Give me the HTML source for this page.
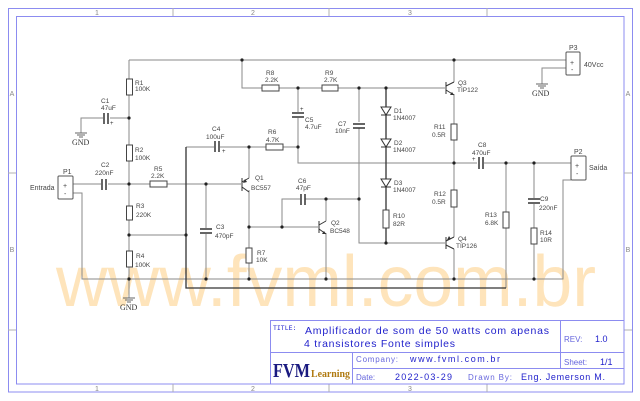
<!DOCTYPE html>
<html><head><meta charset="utf-8"><style>
html,body{margin:0;padding:0;background:#fff;width:640px;height:401px;overflow:hidden}
svg{display:block}
text{font-family:"Liberation Sans",sans-serif}
.mono{font-family:"Liberation Mono",monospace}
.serif{font-family:"Liberation Serif",serif}
</style></head><body>
<svg width="640" height="401" viewBox="0 0 640 401" xmlns="http://www.w3.org/2000/svg">
<!-- borders -->
<rect x="8.5" y="8.5" width="624" height="383.5" fill="none" stroke="#8c8cf0" stroke-width="1"/>
<rect x="16.5" y="16.5" width="607.5" height="367.5" fill="none" stroke="#8c8cf0" stroke-width="1"/>
<g stroke="#b0b0b0" stroke-width="1">
<line x1="173" y1="8" x2="173" y2="16"/><line x1="329" y1="8" x2="329" y2="16"/><line x1="487" y1="8" x2="487" y2="16"/>
<line x1="173" y1="384" x2="173" y2="392"/><line x1="329" y1="384" x2="329" y2="392"/><line x1="487" y1="384" x2="487" y2="392"/>
<line x1="8" y1="173" x2="16" y2="173"/><line x1="624" y1="173" x2="632" y2="173"/>
<line x1="8" y1="330" x2="16" y2="330"/><line x1="624" y1="330" x2="632" y2="330"/>
</g>
<g font-size="7" fill="#888" text-anchor="middle">
<text x="97" y="15">1</text><text x="253" y="15">2</text><text x="410" y="15">3</text>
<text x="97" y="391">1</text><text x="253" y="391">2</text><text x="410" y="391">3</text>
<text x="12" y="96">A</text><text x="628" y="96">A</text>
<text x="12" y="252">B</text><text x="628" y="252">B</text>
</g>

<!-- watermark -->
<text x="56" y="306" font-size="72" fill="#fcc468" fill-opacity="0.45" textLength="540" lengthAdjust="spacingAndGlyphs">www.fvml.com.br</text>

<!-- wires -->
<g stroke="#8a8a8a" stroke-width="1" fill="none">
<path d="M129 60H566M129 60V79M129 95V145M129 160V206M129 220V251M129 267V298"/>
<path d="M81 133V118H103M110 118H129"/>
<path d="M73 184H101M108 184H150M167 184H241"/>
<path d="M73 193H82V279H563V180H571"/>
<path d="M129 235H186"/>
<path d="M186 147H214M220 147H266M283 147H298"/>
<path d="M206 184V228M206 234V279"/>
<path d="M249 147V178M249 190V248M249 262V279"/>
<path d="M249 227H318"/>
<path d="M282 227V199H300M305 199H359"/>
<path d="M326 199V221M326 233V279"/>
<path d="M242 60V88H262M279 88H322M338 88H445"/>
<path d="M298 88V112M298 118V163H477M484 163H571"/>
<path d="M359 88V122M359 128V243H445"/>
<path d="M454 60V82M454 94V124M454 140V190M454 207V237M454 249V279"/>
<path d="M506 163V212M506 228V288"/>
<path d="M534 163V198M534 204V228M534 244V279"/>
<path d="M566 68H542V84"/>
</g>
<g stroke="#333" stroke-width="1.3" fill="none">
<path d="M186 147V288H506"/>
<path d="M386 88V243"/>
</g>

<!-- resistors -->
<g fill="#fff" stroke="#444" stroke-width="1">
<rect x="126.5" y="79" width="6" height="16"/>
<rect x="126.5" y="145" width="6" height="16"/>
<rect x="126.5" y="206" width="6" height="14"/>
<rect x="126.5" y="251" width="6" height="16"/>
<rect x="150" y="181" width="17" height="6"/>
<rect x="262" y="85" width="17" height="6"/>
<rect x="322" y="85" width="16" height="6"/>
<rect x="266" y="144" width="17" height="6"/>
<rect x="246" y="248" width="6" height="15"/>
<rect x="383" y="210" width="6" height="18"/>
<rect x="451" y="124" width="6" height="16"/>
<rect x="451" y="190" width="6" height="17"/>
<rect x="503" y="212" width="6" height="16"/>
<rect x="531" y="228" width="6" height="16"/>
</g>

<!-- capacitors -->
<g stroke="#333" stroke-width="1.5">
<line x1="104" y1="113" x2="104" y2="124"/><line x1="108" y1="113" x2="108" y2="124"/>
<line x1="102" y1="179" x2="102" y2="190"/><line x1="106" y1="179" x2="106" y2="190"/>
<line x1="215" y1="141" x2="215" y2="152"/><line x1="219" y1="141" x2="219" y2="152"/>
<line x1="292" y1="113" x2="304" y2="113"/><line x1="292" y1="117" x2="304" y2="117"/>
<line x1="200" y1="229" x2="212" y2="229"/><line x1="200" y1="233" x2="212" y2="233"/>
<line x1="301" y1="194" x2="301" y2="205"/><line x1="305" y1="194" x2="305" y2="205"/>
<line x1="353" y1="124" x2="365" y2="124"/><line x1="353" y1="128" x2="365" y2="128"/>
<line x1="479" y1="157" x2="479" y2="169"/><line x1="483" y1="157" x2="483" y2="169"/>
<line x1="528" y1="199" x2="540" y2="199"/><line x1="528" y1="203" x2="540" y2="203"/>
</g>
<g font-size="6" fill="#333"><text x="110" y="125">+</text><text x="222" y="153">+</text><text x="300" y="111">+</text><text x="472" y="161">+</text></g>

<!-- diodes -->
<g fill="#fff" stroke="#333" stroke-width="1">
<path d="M381 107H391L386 115Z"/><line x1="381" y1="115" x2="391" y2="115"/>
<path d="M381 139H391L386 147Z"/><line x1="381" y1="147" x2="391" y2="147"/>
<path d="M381 179H391L386 187Z"/><line x1="381" y1="187" x2="391" y2="187"/>
</g>

<!-- transistors -->
<g stroke="#333" stroke-width="1" fill="none">
<line x1="242" y1="178" x2="242" y2="191"/><path d="M242 182L249 178M242 187L249 192"/>
<line x1="319" y1="221" x2="319" y2="233"/><path d="M319 225L326 221M319 229L326 234"/>
<line x1="446" y1="82" x2="446" y2="94"/><path d="M446 86L454 82M446 90L454 95"/>
<line x1="446" y1="237" x2="446" y2="249"/><path d="M446 241L454 237M446 245L454 249"/>
</g>
<g fill="#333"><path d="M243 183l4 -1l-2 -3z"/><path d="M326 234l-4 0l2 -3z"/><path d="M454 95l-4 0l2 -3z"/><path d="M447 240l4 -1l-2 -3z"/></g>

<!-- nodes -->
<g fill="#222">
<circle cx="129" cy="118" r="1.6"/><circle cx="129" cy="184" r="1.6"/><circle cx="129" cy="235" r="1.6"/><circle cx="129" cy="279" r="1.6"/>
<circle cx="186" cy="235" r="1.6"/><circle cx="206" cy="184" r="1.6"/><circle cx="206" cy="279" r="1.6"/>
<circle cx="249" cy="147" r="1.6"/><circle cx="249" cy="227" r="1.6"/><circle cx="249" cy="279" r="1.6"/>
<circle cx="282" cy="227" r="1.6"/><circle cx="326" cy="199" r="1.6"/><circle cx="326" cy="279" r="1.6"/>
<circle cx="359" cy="199" r="1.6"/><circle cx="242" cy="60" r="1.6"/><circle cx="298" cy="88" r="1.6"/><circle cx="298" cy="147" r="1.6"/>
<circle cx="359" cy="88" r="1.6"/><circle cx="386" cy="88" r="1.6"/><circle cx="386" cy="243" r="1.6"/>
<circle cx="454" cy="60" r="1.6"/><circle cx="454" cy="163" r="1.6"/><circle cx="454" cy="279" r="1.6"/>
<circle cx="506" cy="163" r="1.6"/><circle cx="534" cy="163" r="1.6"/><circle cx="534" cy="279" r="1.6"/>
</g>

<!-- connectors -->
<g fill="#fff" stroke="#555"><rect x="58" y="176" width="15" height="23" rx="1"/><rect x="566" y="52" width="14" height="23" rx="1"/><rect x="571" y="156" width="15" height="24" rx="1"/></g>
<g font-size="7" fill="#444">
<text x="63" y="174">P1</text><text x="63" y="188">+</text><text x="64" y="196">-</text><text x="30" y="190">Entrada</text>
<text x="569" y="50">P3</text><text x="570" y="65">+</text><text x="571" y="72">-</text><text x="584" y="67">40Vcc</text>
<text x="574" y="154">P2</text><text x="575" y="168">+</text><text x="576" y="176">-</text><text x="589" y="170">Saída</text>
</g>

<!-- GND -->
<g stroke="#666" stroke-width="1">
<line x1="75" y1="133" x2="87" y2="133"/><line x1="77" y1="135" x2="85" y2="135"/><line x1="79" y1="137" x2="83" y2="137"/>
<line x1="123" y1="298" x2="135" y2="298"/><line x1="125" y1="300" x2="133" y2="300"/><line x1="127" y1="302" x2="131" y2="302"/>
<line x1="536" y1="84" x2="548" y2="84"/><line x1="538" y1="86" x2="546" y2="86"/><line x1="540" y1="88" x2="544" y2="88"/>
</g>
<g font-size="8" fill="#333"><text class="serif" x="72" y="145">GND</text><text class="serif" x="120" y="310">GND</text><text class="serif" x="532" y="96">GND</text></g>

<!-- labels -->
<g font-size="6.5" fill="#444">
<text x="135" y="85">R1</text><text x="135" y="91">100K</text>
<text x="101" y="103">C1</text><text x="101" y="110">47uF</text>
<text x="135" y="152">R2</text><text x="135" y="160">100K</text>
<text x="101" y="167">C2</text><text x="95" y="175">220nF</text>
<text x="154" y="171">R5</text><text x="151" y="178">2.2K</text>
<text x="136" y="208">R3</text><text x="136" y="217">220K</text>
<text x="136" y="258">R4</text><text x="135" y="267">100K</text>
<text x="212" y="131">C4</text><text x="206" y="139">100uF</text>
<text x="255" y="180">Q1</text><text x="251" y="190">BC557</text>
<text x="216" y="229">C3</text><text x="215" y="238">470pF</text>
<text x="257" y="255">R7</text><text x="256" y="262">10K</text>
<text x="268" y="134">R6</text><text x="266" y="142">4.7K</text>
<text x="266" y="75">R8</text><text x="265" y="82">2.2K</text>
<text x="325" y="75">R9</text><text x="324" y="82">2.7K</text>
<text x="305" y="122">C5</text><text x="305" y="129">4.7uF</text>
<text x="298" y="183">C6</text><text x="296" y="190">47pF</text>
<text x="331" y="225">Q2</text><text x="330" y="233">BC548</text>
<text x="338" y="126">C7</text><text x="335" y="133">10nF</text>
<text x="394" y="113">D1</text><text x="393" y="120">1N4007</text>
<text x="394" y="145">D2</text><text x="393" y="152">1N4007</text>
<text x="394" y="185">D3</text><text x="393" y="192">1N4007</text>
<text x="393" y="218">R10</text><text x="393" y="226">82R</text>
<text x="458" y="85">Q3</text><text x="457" y="92">TIP122</text>
<text x="434" y="129">R11</text><text x="432" y="137">0.5R</text>
<text x="434" y="196">R12</text><text x="432" y="204">0.5R</text>
<text x="458" y="241">Q4</text><text x="456" y="248">TIP126</text>
<text x="478" y="147">C8</text><text x="472" y="155">470uF</text>
<text x="485" y="217">R13</text><text x="485" y="225">6.8K</text>
<text x="540" y="201">C9</text><text x="539" y="210">220nF</text>
<text x="540" y="235">R14</text><text x="540" y="242">10R</text>
</g>

<!-- title block -->
<g fill="none" stroke="#8c8cf0" stroke-width="1">
<rect x="270.5" y="320.5" width="353.5" height="63.5"/>
<line x1="270" y1="352.5" x2="624" y2="352.5"/>
<line x1="560.5" y1="320" x2="560.5" y2="368"/>
<line x1="352.5" y1="352" x2="352.5" y2="384"/>
<line x1="352" y1="368.5" x2="624" y2="368.5"/>
</g>
<g fill="#2222cc">
<text class="mono" x="273" y="330" font-size="6.5">TITLE:</text>
<text x="305" y="334" font-size="10.5" textLength="244" lengthAdjust="spacing">Amplificador de som de 50 watts com apenas</text>
<text x="304" y="347" font-size="10.5" textLength="151" lengthAdjust="spacing">4 transistores Fonte simples</text>
<text x="564" y="342" font-size="8" fill="#6666dd">REV:</text><text x="595" y="342" font-size="9">1.0</text>
<text x="564" y="365" font-size="8" fill="#6666dd">Sheet:</text><text x="600" y="365" font-size="9">1/1</text>
<text x="356" y="362" font-size="8" fill="#6666dd" textLength="42" lengthAdjust="spacing">Company:</text>
<text x="410" y="362" font-size="9" textLength="90" lengthAdjust="spacing">www.fvml.com.br</text>
<text x="356" y="380" font-size="8" fill="#6666dd">Date:</text>
<text x="395" y="380" font-size="9" textLength="57" lengthAdjust="spacing">2022-03-29</text>
<text x="468" y="380" font-size="8" fill="#6666dd" textLength="44" lengthAdjust="spacing">Drawn By:</text>
<text x="521" y="380" font-size="9" textLength="84" lengthAdjust="spacing">Eng. Jemerson M.</text>
</g>
<text class="serif" x="273" y="377" font-weight="bold" font-size="20" fill="#1a1a80" textLength="37" lengthAdjust="spacingAndGlyphs">FVM</text>
<text class="serif" x="311" y="377" font-weight="bold" font-size="10" fill="#b07a10" textLength="39" lengthAdjust="spacingAndGlyphs">Learning</text>
</svg>
</body></html>
